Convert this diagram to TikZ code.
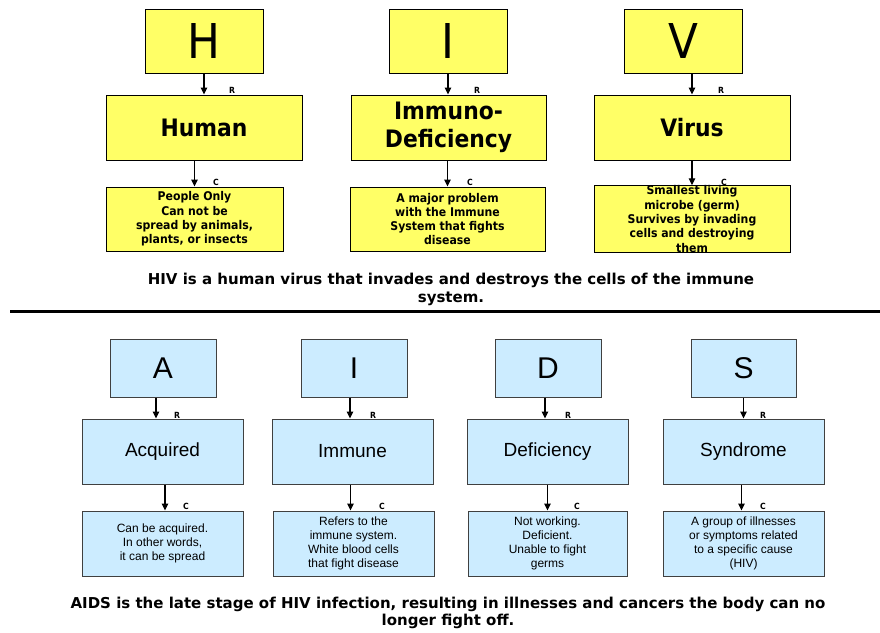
\documentclass[tikz,border=0pt]{standalone}
\usepackage{fontspec}
\setmainfont{DejaVu Sans}
\newfontfamily\verd{DejaVu Sans}[FakeStretch=0.91]
\newfontfamily\capfont{DejaVu Sans}
\newfontfamily\arl{Liberation Sans}
\usetikzlibrary{arrows.meta}
\definecolor{hivyellow}{RGB}{255,255,102}
\definecolor{aidsblue}{RGB}{204,236,255}

\begin{document}
\begin{tikzpicture}[x=1pt, y=-1pt,
    ybox/.style={draw=black, fill=hivyellow, line width=1pt, inner sep=0pt, align=center},
    bbox/.style={draw=black!75, fill=aidsblue, line width=1pt, inner sep=0pt, align=center},
    arr/.style={-{Triangle[length=7pt,width=6.5pt]}, line width=1.1pt},
    tag/.style={font=\verd\bfseries\fontsize{8.5}{8.5}\selectfont, inner sep=0pt}]
    \useasboundingbox (0,0) rectangle (880,632);

    % HIV row
    \node[ybox, minimum width=118, minimum height=64, font=\verd\fontsize{48}{50}\selectfont] (h) at (204,41) {H};
    \node[ybox, minimum width=118, minimum height=64, font=\verd\fontsize{48}{50}\selectfont] (i) at (448,41) {I};
    \node[ybox, minimum width=118, minimum height=64, font=\verd\fontsize{48}{50}\selectfont] (v) at (683,41) {V};
    \node[ybox, minimum width=196, minimum height=65, font=\verd\bfseries\fontsize{24}{27.5}\selectfont] (hum) at (204,127.5) {Human};
    \node[ybox, minimum width=195, minimum height=65, font=\verd\bfseries\fontsize{24}{27.5}\selectfont] (imm) at (448.5,127.5) {Immuno-\\Deficiency};
    \node[ybox, minimum width=196, minimum height=65, font=\verd\bfseries\fontsize{24}{27.5}\selectfont] (vir) at (692,127.5) {Virus};
    \node[ybox, minimum width=177, minimum height=64, font=\verd\bfseries\fontsize{12}{14.3}\selectfont] (humc) at (194.5,219) {People Only\\Can not be\\spread by animals,\\plants, or insects};
    \node[ybox, minimum width=195, minimum height=64, font=\verd\bfseries\fontsize{12}{14.3}\selectfont] (immc) at (447.5,219) {A major problem\\with the Immune\\System that fights\\disease};
    \node[ybox, minimum width=196, minimum height=64, font=\verd\bfseries\fontsize{12}{14.3}\selectfont] (virc) at (692,219) {Smallest living\\microbe (germ)\\Survives by invading\\cells and destroying\\them};

    \draw[arr] (h.south) -- (hum.north);
    \draw[arr] (i.south) -- (i.south |- imm.north);
    \draw[arr] (v.south -| vir.north) -- (vir.north);
    \draw[arr] (hum.south -| humc.north) -- (humc.north);
    \draw[arr] (imm.south -| immc.north) -- (immc.north);
    \draw[arr] (vir.south) -- (virc.north);

    \node[tag] (rh) at (232,90) {R};
    \node[tag] (ri) at (477,90) {R};
    \node[tag] (rv) at (721,90) {R};
    \node[tag] (ch) at (216,182) {C};
    \node[tag] (ci) at (470,182) {C};
    \node[tag] (cv) at (724,182) {C};

    \node[font=\capfont\bfseries\fontsize{15}{18}\selectfont, align=center] (hivtxt) at (451,289)
      {HIV is a human virus that invades and destroys the cells of the immune\\system.};
    \draw[line width=3pt] (10,311) -- (880,311);

    % AIDS row
    \node[bbox, minimum width=106, minimum height=58, font=\arl\fontsize{30}{32}\selectfont] (a) at (163,368) {A};
    \node[bbox, minimum width=106, minimum height=58, font=\arl\fontsize{30}{32}\selectfont] (ib) at (354,368) {I};
    \node[bbox, minimum width=106, minimum height=58, font=\arl\fontsize{30}{32}\selectfont] (d) at (548,368) {D};
    \node[bbox, minimum width=105, minimum height=58, font=\arl\fontsize{30}{32}\selectfont] (s) at (743.5,368) {S};
    \node[bbox, minimum width=161, minimum height=65, font=\arl\fontsize{19}{21}\selectfont] (acq) at (162.5,451.5) {Acquired};
    \node[bbox, minimum width=161, minimum height=65, font=\arl\fontsize{19}{21}\selectfont] (imu) at (352.5,451.5) {Immune};
    \node[bbox, minimum width=161, minimum height=65, font=\arl\fontsize{19}{21}\selectfont] (def) at (547.5,451.5) {Deficiency};
    \node[bbox, minimum width=161, minimum height=65, font=\arl\fontsize{19}{21}\selectfont] (syn) at (743.5,451.5) {Syndrome};
    \node[bbox, minimum width=161, minimum height=65, font=\arl\fontsize{12}{14}\selectfont] (acqc) at (162.5,543.5) {Can be acquired.\\In other words,\\it can be spread};
    \node[bbox, minimum width=161, minimum height=65, font=\arl\fontsize{12}{14}\selectfont] (imuc) at (353.5,543.5) {Refers to the\\immune system.\\White blood cells\\that fight disease};
    \node[bbox, minimum width=159, minimum height=65, font=\arl\fontsize{12}{14}\selectfont] (defc) at (547.5,543.5) {Not working.\\Deficient.\\Unable to fight\\germs};
    \node[bbox, minimum width=161, minimum height=65, font=\arl\fontsize{12}{14}\selectfont] (sync) at (743.5,543.5) {A group of illnesses\\or symptoms related\\to a specific cause\\(HIV)};

    \draw[arr] ([xshift=-7pt]a.south) -- ([xshift=-7pt]a.south |- acq.north);
    \draw[arr] ([xshift=-4pt]ib.south) -- ([xshift=-4pt]ib.south |- imu.north);
    \draw[arr] ([xshift=-3pt]d.south) -- ([xshift=-3pt]d.south |- def.north);
    \draw[arr] (s.south) -- (syn.north);
    \draw[arr] ([xshift=2.5pt]acq.south) -- ([xshift=2.5pt]acqc.north);
    \draw[arr] ([xshift=-2pt]imu.south) -- ([xshift=-2pt]imu.south |- imuc.north);
    \draw[arr] (def.south) -- (defc.north);
    \draw[arr] ([xshift=-2pt]syn.south) -- ([xshift=-2pt]sync.north);

    \node[tag] (ra) at (177,415) {R};
    \node[tag] (rib) at (373,415) {R};
    \node[tag] (rd) at (568,415) {R};
    \node[tag] (rs) at (763,415) {R};
    \node[tag] (ca) at (186,506) {C};
    \node[tag] (cib) at (382,506) {C};
    \node[tag] (cd) at (577,506) {C};
    \node[tag] (cs) at (763,506) {C};

    \node[font=\capfont\bfseries\fontsize{15}{17.5}\selectfont, align=center] (aidstxt) at (448,613)
      {AIDS is the late stage of HIV infection, resulting in illnesses and cancers the body can no\\longer fight off.};
\end{tikzpicture}
\end{document}
